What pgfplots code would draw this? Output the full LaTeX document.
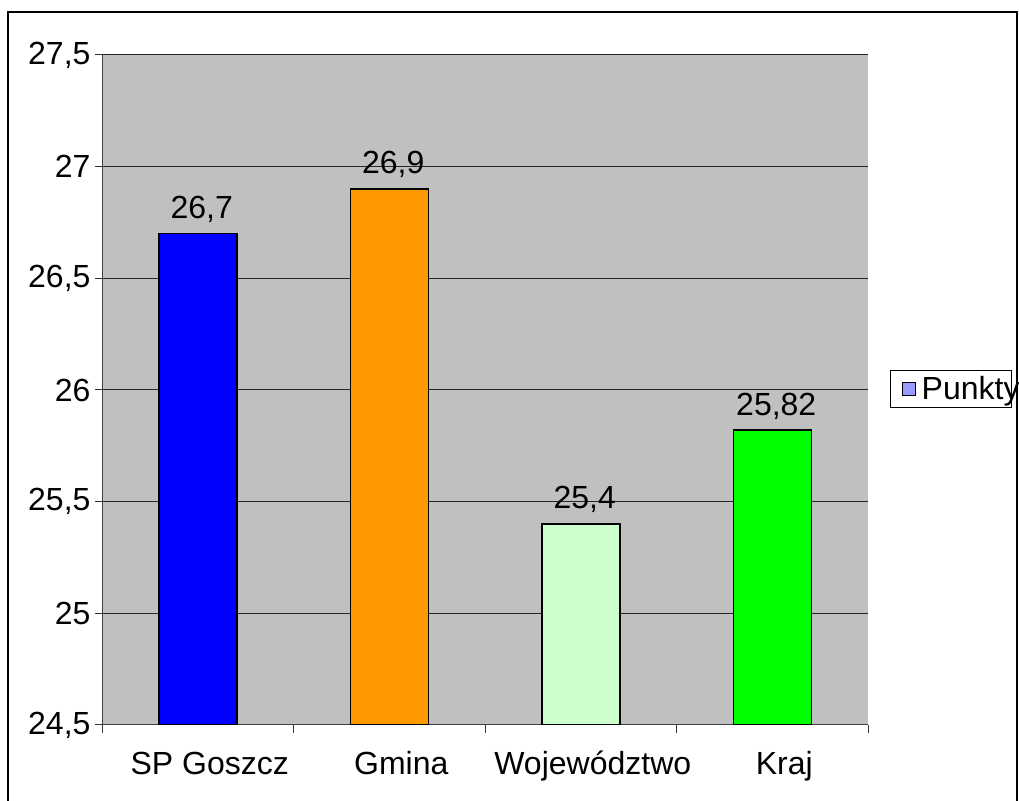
\documentclass[border=0pt]{standalone}
\usepackage{fontspec}
\setmainfont{Liberation Sans}
\usepackage{graphicx}
\usepackage{pgfplots}
\pgfplotsset{compat=1.18}
\definecolor{plotgray}{HTML}{C0C0C0}
\definecolor{cblue}{HTML}{0000FF}
\definecolor{corange}{HTML}{FF9900}
\definecolor{clight}{HTML}{CCFFCC}
\definecolor{cgreen}{HTML}{00FF00}
\definecolor{clegend}{HTML}{9999FF}
\begin{document}
\begin{tikzpicture}[x=1bp,y=1bp]
\useasboundingbox[fill=white] (0,0) rectangle (1019,801);
\begin{axis}[
  at={(102bp,76bp)}, anchor=south west,
  scale only axis, width=766bp, height=670bp,
  xmin=-0.5, xmax=3.5, ymin=24.5, ymax=27.5,
  axis x line=bottom, axis y line=left,
  axis line style={-, draw=black!75, line width=1bp},
  axis background/.style={fill=plotgray},
  ytick={24.5,25,25.5,26,26.5,27,27.5},
  xtick={0,1,2,3},
  xticklabels={SP Goszcz,Gmina,Województwo,Kraj},
  minor xtick={-0.5,0.5,1.5,2.5,3.5},
  tick align=outside,
  major tick length=7bp, minor tick length=8bp,
  major x tick style={draw=none},
  minor x tick style={draw=black!80, line width=1bp},
  major y tick style={draw=black!80, line width=1bp},
  ymajorgrids, grid style={draw=black!85, line width=1bp},
  /pgf/number format/.cd, use comma, fixed, precision=2, assume math mode=true,
  /pgfplots/.cd,
  every tick label/.append style={font=\fontsize{32bp}{38bp}\selectfont, text=black},
  yticklabel style={xshift=-1bp},
  xticklabel style={yshift=-15bp, xshift=12bp, text height=24bp, text depth=7bp},
  nodes near coords,
  every node near coord/.append style={font=\fontsize{32bp}{38bp}\selectfont, anchor=base, yshift=15bp, xshift=4bp, inner sep=0pt},
  legend style={at={(1.0287,0.5015)}, anchor=west, draw=black, line width=1bp, fill=white,
    inner xsep=11bp, inner ysep=6bp, nodes={inner sep=0pt}, column sep=0pt},
  legend image code/.code={\draw[#1] (0bp,-6.5bp) rectangle (13bp,6.5bp);},
]
\addplot[ybar, bar width=78bp, bar shift=0pt, fill=cblue, draw=black, line width=1.5bp, forget plot] coordinates {(0,26.7)};
\addplot[ybar, bar width=78bp, bar shift=0pt, fill=corange, draw=black, line width=1.5bp, forget plot] coordinates {(1,26.9)};
\addplot[ybar, bar width=78bp, bar shift=0pt, fill=clight, draw=black, line width=1.5bp, forget plot] coordinates {(2,25.4)};
\addplot[ybar, bar width=78bp, bar shift=0pt, fill=cgreen, draw=black, line width=1.5bp, forget plot] coordinates {(3,25.82)};
\addlegendimage{fill=clegend, draw=black, line width=1.2bp}
\addlegendentry{\makebox[85bp][l]{\hspace{6bp}\fontsize{32bp}{38bp}\selectfont Punkty}}
\end{axis}
\draw[black, line width=2.5bp] (8,0) -- (8,789) -- (1017,789) -- (1017,0);
\end{tikzpicture}
\end{document}
